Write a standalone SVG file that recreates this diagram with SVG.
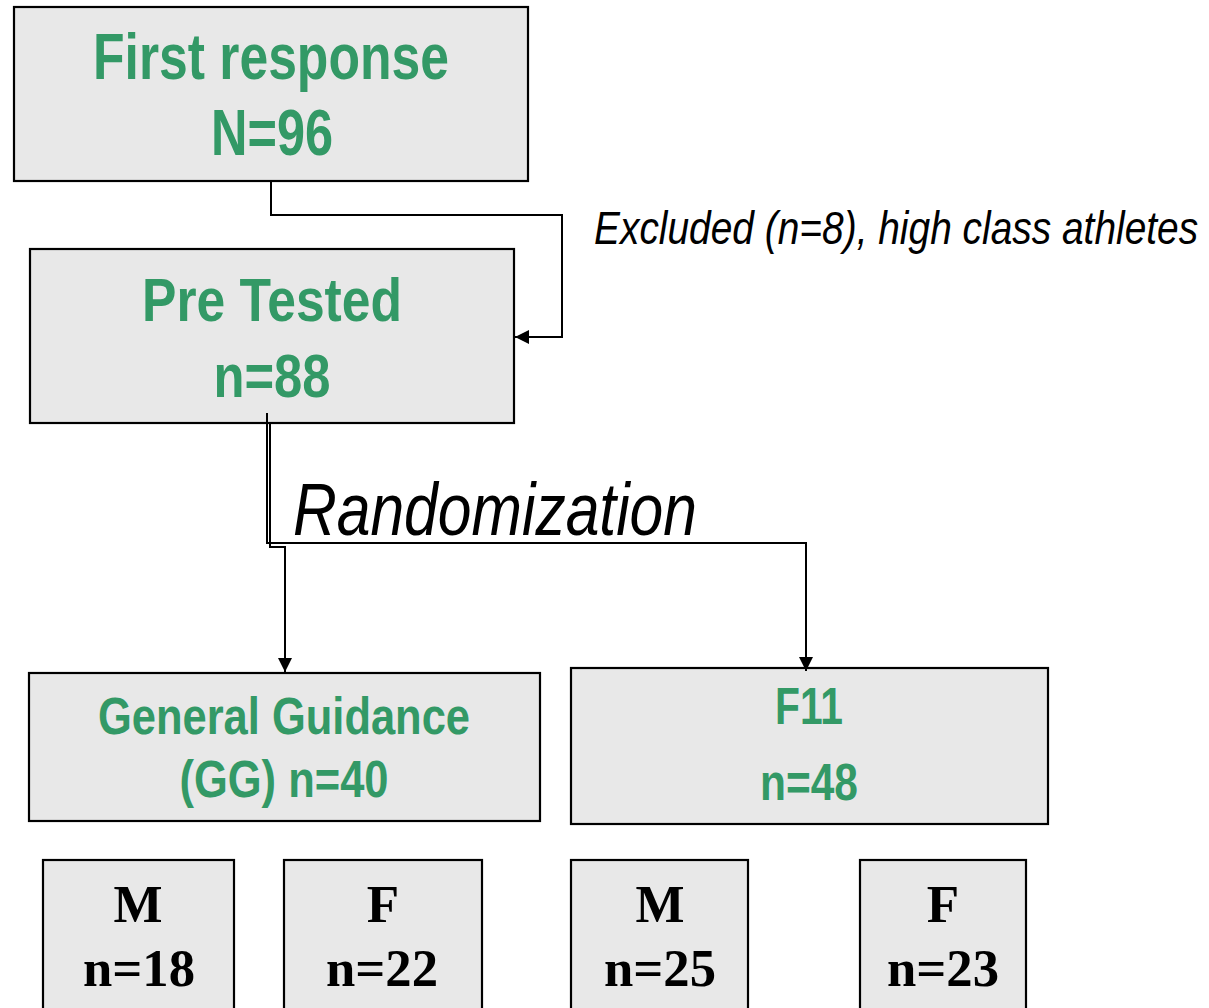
<svg xmlns="http://www.w3.org/2000/svg" width="1209" height="1008" viewBox="0 0 1209 1008">
<defs>
<style>
.box{fill:#e8e8e8;stroke:#000;stroke-width:2.2}
.g{font-family:"Liberation Sans",Arial,sans-serif;font-weight:bold;fill:#339966;text-anchor:middle}
.s{font-family:"Liberation Serif","Times New Roman",serif;font-weight:bold;fill:#000;text-anchor:middle;font-size:53px}
.it{font-family:"Liberation Sans",Arial,sans-serif;font-style:italic;fill:#000}
.ln{fill:none;stroke:#000;stroke-width:2}
</style>
<marker id="ah2" viewBox="0 0 10 10" refX="10" refY="5" markerWidth="14" markerHeight="14" markerUnits="userSpaceOnUse" orient="auto">
<path d="M0,0 L10,5 L0,10 z" fill="#000"/>
</marker>
</defs>
<rect width="1209" height="1008" fill="#fff"/>
<g id="first-response">
<rect class="box" x="14" y="7" width="514" height="174"/>
<text class="g" x="271" y="79" font-size="65" textLength="356" lengthAdjust="spacingAndGlyphs">First response</text>
<text class="g" x="272" y="155" font-size="65" textLength="122" lengthAdjust="spacingAndGlyphs">N=96</text>
</g>
<g id="pre-tested">
<rect class="box" x="30" y="249" width="484" height="174"/>
<text class="g" x="272" y="321" font-size="62" textLength="260" lengthAdjust="spacingAndGlyphs">Pre Tested</text>
<text class="g" x="272" y="397" font-size="62" textLength="117" lengthAdjust="spacingAndGlyphs">n=88</text>
</g>
<g id="gg">
<rect class="box" x="29" y="673" width="511" height="148"/>
<text class="g" x="284" y="734" font-size="52" textLength="372" lengthAdjust="spacingAndGlyphs">General Guidance</text>
<text class="g" x="284" y="797" font-size="52" textLength="209" lengthAdjust="spacingAndGlyphs">(GG) n=40</text>
</g>
<g id="f11">
<rect class="box" x="571" y="668" width="477" height="156"/>
<text class="g" x="809" y="724" font-size="52" textLength="68" lengthAdjust="spacingAndGlyphs">F11</text>
<text class="g" x="809" y="800" font-size="52" textLength="98" lengthAdjust="spacingAndGlyphs">n=48</text>
</g>
<g id="gg-m">
<rect class="box" x="43" y="860" width="191" height="160"/>
<text class="s" x="138" y="922" textLength="49" lengthAdjust="spacingAndGlyphs">M</text>
<text class="s" x="139" y="986" textLength="112" lengthAdjust="spacingAndGlyphs">n=18</text>
</g>
<g id="gg-f">
<rect class="box" x="284" y="860" width="198" height="160"/>
<text class="s" x="383" y="922">F</text>
<text class="s" x="382" y="986" textLength="112" lengthAdjust="spacingAndGlyphs">n=22</text>
</g>
<g id="f11-m">
<rect class="box" x="571" y="860" width="177" height="160"/>
<text class="s" x="660" y="922" textLength="49" lengthAdjust="spacingAndGlyphs">M</text>
<text class="s" x="660" y="986" textLength="112" lengthAdjust="spacingAndGlyphs">n=25</text>
</g>
<g id="f11-f">
<rect class="box" x="860" y="860" width="166" height="160"/>
<text class="s" x="943" y="922">F</text>
<text class="s" x="943" y="986" textLength="112" lengthAdjust="spacingAndGlyphs">n=23</text>
</g>
<g id="connectors">
<polyline class="ln" points="271,181 271,215 562,215 562,337 515,337" marker-end="url(#ah2)"/>
<polyline class="ln" points="267,413 267,543 806,543 806,671" marker-end="url(#ah2)"/>
<polyline class="ln" points="270,423 270,547 285,547 285,672" marker-end="url(#ah2)"/>
<text class="it" transform="translate(594,244) scale(0.845,1)" x="0" y="0" font-size="46" textLength="715" lengthAdjust="spacingAndGlyphs">Excluded (n=8), high class athletes</text>
<text class="it" x="293" y="535" font-size="74" textLength="404" lengthAdjust="spacingAndGlyphs">Randomization</text>
</g>
</svg>
